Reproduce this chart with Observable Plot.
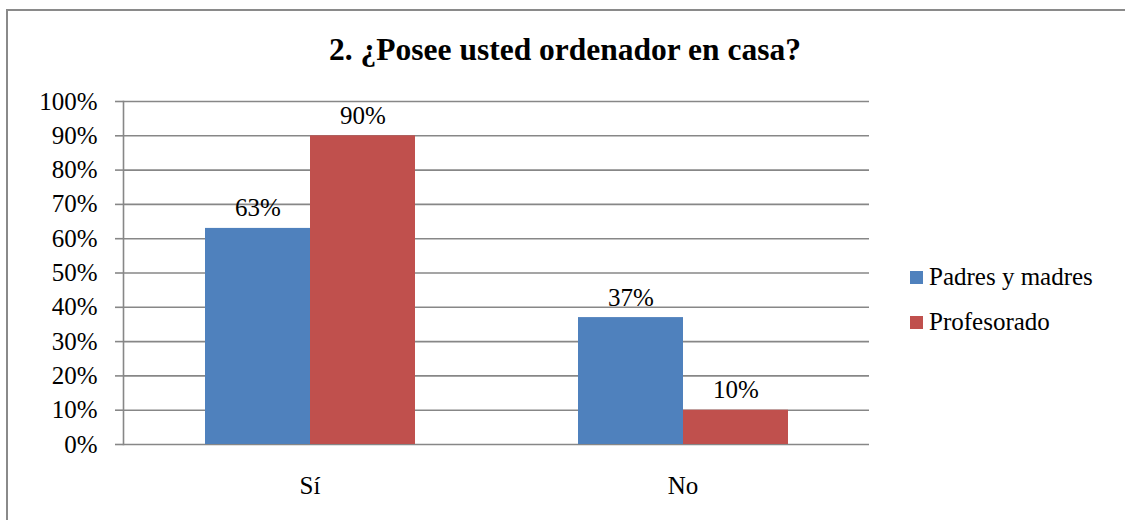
<!DOCTYPE html>
<html>
<head>
<meta charset="utf-8">
<script src="https://cdn.jsdelivr.net/npm/d3@7"></script>
<script src="https://cdn.jsdelivr.net/npm/@observablehq/plot@0.6"></script>
<style>
  html, body { margin: 0; padding: 0; background: #fff; }
  #wrap { position: relative; width: 1125px; height: 520px; overflow: hidden; font-family: "Liberation Serif", "Times New Roman", serif; }
  #border { position: absolute; left: 6px; top: 9px; width: 1200px; height: 600px; border-left: 2px solid #8a8a8a; border-top: 2px solid #8a8a8a; }
  #title { height: 80px; width: 1125px; box-sizing: border-box; padding-left: 5px; text-align: center; font-weight: bold; font-size: 31.5px; line-height: 31px; padding-top: 34px; color: #000; }
  #chart { position: absolute; left: 0; top: 80px; }
  .leg { position: absolute; left: 910px; font-size: 25px; color: #000; white-space: nowrap; }
  .leg span.sw { display: inline-block; width: 13px; height: 13px; margin-right: 6px; vertical-align: 1px; }
</style>
</head>
<body>
<div id="wrap">
  <div id="border"></div>
  <div id="title">2. ¿Posee usted ordenador en casa?</div>
  <div id="chart"></div>
  <div id="legend"></div>
</div>
<script>
const categories = ["Sí", "No"];
const series = ["Padres y madres", "Profesorado"];
const padres = [0.63, 0.37];
const profesorado = [0.90, 0.10];
const colors = ["#4F81BD", "#C0504D"];
const yTicks = [0, 0.1, 0.2, 0.3, 0.4, 0.5, 0.6, 0.7, 0.8, 0.9, 1.0];

const values = [padres, profesorado];
const data = [];
categories.forEach((c, i) => {
  series.forEach((s, j) => data.push({cat: c, serie: s, value: values[j][i]}));
});

const fmt = d3.format(".0%");
const font = "'Liberation Serif', 'Times New Roman', serif";

const plot = Plot.plot({
  width: 1125,
  height: 440,
  marginTop: 21,
  marginBottom: 76,
  marginLeft: 123,
  marginRight: 256,
  style: {fontFamily: font, fontSize: "25px", color: "#000", background: "transparent"},
  fx: {domain: categories, padding: 0, label: null},
  x: {domain: series, paddingInner: 0, paddingOuter: 0.762, label: null},
  y: {domain: [0, 1], label: null},
  color: {domain: series, range: colors},
  marks: [
    Plot.ruleY(yTicks, {stroke: "#878787", strokeWidth: 1.6}),
    Plot.barY(data, {fx: "cat", x: "serie", y: "value", fill: "serie"}),
    Plot.text(data, {fx: "cat", x: "serie", y: "value", text: d => fmt(d.value), dy: -12, lineAnchor: "bottom", fontSize: 25, fill: "#000"}),
    Plot.frame({anchor: "left", facetAnchor: "left", stroke: "#878787", strokeWidth: 1.6}),
    Plot.axisY({ticks: yTicks, tickFormat: fmt, tickSize: 8, tickPadding: 18, stroke: "#878787", strokeWidth: 1.6, fontSize: 25, label: null}),
    Plot.axisFx({anchor: "bottom", tickSize: 0, tickPadding: 32, fontSize: 25, label: null}),
    Plot.axisX({ticks: [], label: null})
  ]
});
document.getElementById("chart").appendChild(plot);

const legend = document.getElementById("legend");
const legTops = [263, 308];
series.forEach((s, j) => {
  const div = document.createElement("div");
  div.className = "leg";
  div.style.top = legTops[j] + "px";
  const sw = document.createElement("span");
  sw.className = "sw";
  sw.style.background = colors[j];
  div.appendChild(sw);
  div.appendChild(document.createTextNode(s));
  legend.appendChild(div);
});
</script>
</body>
</html>
